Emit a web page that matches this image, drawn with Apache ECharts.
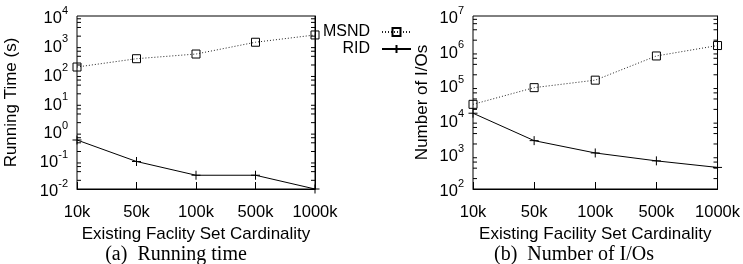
<!DOCTYPE html>
<html>
<head>
<meta charset="utf-8">
<script src="https://cdn.jsdelivr.net/npm/echarts@6/dist/echarts.min.js"></script>
<style>html,body{margin:0;padding:0;background:#fff}</style>
</head>
<body>
<div id="main" style="width:743px;height:264px"></div>
<script>
// 横轴
var categories = ['10k', '50k', '100k', '500k', '1000k']
// (a) 运行时间 (s)
var timeMSND = [170, 330, 480, 1230, 2200]
var timeRID = [0.5, 0.09, 0.03, 0.03, 0.01]
// (b) I/O 次数
var ioMSND = [28000, 85000, 140000, 700000, 1400000]
var ioRID = [15500, 2500, 1100, 650, 420]
// 纵轴范围
var timeRange = [0.01, 10000]
var ioRange = [100, 10000000]
var minorSteps = [2, 4, 6, 8]

var sans = 'Liberation Sans'
var serif = 'Liberation Serif'

// 对数轴次刻度 2,4,6,8
function minorValues (range) {
  var out = []
  var lo = Math.round(Math.log10(range[0]))
  var hi = Math.round(Math.log10(range[1]))
  for (var d = lo; d < hi; d++) {
    minorSteps.forEach(function (k) { out.push([0, k * Math.pow(10, d)]) })
  }
  return out
}

function powLabel (v) {
  var e = Math.round(Math.log10(v))
  return '{b|10}{s|' + e + '}'
}

function xAxisOf (gridIndex, name) {
  return {
    type: 'category',
    gridIndex: gridIndex,
    data: categories,
    boundaryGap: false,
    axisLine: { lineStyle: { color: '#000', width: 1 } },
    axisTick: { inside: true, length: 7, interval: 0, lineStyle: { color: '#000' } },
    axisLabel: { interval: 0, margin: 15, color: '#000', fontFamily: sans, fontSize: 16.5 },
    splitLine: { show: false },
    name: name,
    nameLocation: 'middle',
    nameGap: 35,
    nameTextStyle: { color: '#000', fontFamily: sans, fontSize: 17 }
  }
}

function yAxisOf (gridIndex, range, split, name, gap) {
  return {
    type: 'log',
    logBase: 10,
    gridIndex: gridIndex,
    min: range[0],
    max: range[1],
    splitNumber: split,
    axisLine: { lineStyle: { color: '#000', width: 1 } },
    axisTick: { inside: true, length: 7, lineStyle: { color: '#000' } },
    axisLabel: {
      margin: 9,
      formatter: powLabel,
      rich: {
        b: { fontFamily: sans, fontSize: 16.5, color: '#000', lineHeight: 22, verticalAlign: 'bottom' },
        s: { fontFamily: sans, fontSize: 11, color: '#000', lineHeight: 22, verticalAlign: 'top' }
      }
    },
    splitLine: { show: false },
    name: name,
    nameLocation: 'middle',
    nameRotate: 90,
    nameGap: gap,
    nameTextStyle: { color: '#000', fontFamily: sans, fontSize: 17 }
  }
}

// 右侧镜像刻度
function mirrorAxisOf (gridIndex, range, split) {
  return {
    type: 'log',
    logBase: 10,
    gridIndex: gridIndex,
    position: 'right',
    min: range[0],
    max: range[1],
    splitNumber: split,
    axisLine: { show: true, lineStyle: { color: '#000', width: 1 } },
    axisTick: { inside: true, length: 7, lineStyle: { color: '#000' } },
    axisLabel: { show: false },
    splitLine: { show: false }
  }
}

function minorTickSeries (gridIndex, range) {
  return {
    type: 'custom',
    name: 'minor' + gridIndex,
    xAxisIndex: gridIndex,
    yAxisIndex: gridIndex * 2,
    silent: true,
    clip: false,
    z: 5,
    data: minorValues(range),
    renderItem: function (params, api) {
      var y = api.coord([0, api.value(1)])[1]
      var cs = params.coordSys
      var st = { stroke: '#000', lineWidth: 1 }
      return {
        type: 'group',
        children: [
          { type: 'line', shape: { x1: cs.x, y1: y, x2: cs.x + 4, y2: y }, style: st },
          { type: 'line', shape: { x1: cs.x + cs.width - 4, y1: y, x2: cs.x + cs.width, y2: y }, style: st }
        ]
      }
    }
  }
}

function msndSeries (gridIndex, data) {
  return {
    name: 'MSND',
    type: 'line',
    xAxisIndex: gridIndex,
    yAxisIndex: gridIndex * 2,
    data: data,
    symbol: 'rect',
    symbolSize: 8,
    z: 3,
    lineStyle: { color: '#222', width: 1, type: [1, 2] },
    itemStyle: { color: 'rgba(0,0,0,0)', borderColor: '#000', borderWidth: 1 }
  }
}

function ridSeries (gridIndex, data) {
  return {
    name: 'RID',
    type: 'line',
    xAxisIndex: gridIndex,
    yAxisIndex: gridIndex * 2,
    data: data,
    symbol: 'path://M0,4L8,4M4,0L4,8',
    symbolSize: 9,
    z: 3,
    lineStyle: { color: '#000', width: 1 },
    itemStyle: { color: '#000', borderColor: '#000', borderWidth: 1 }
  }
}

var myChart = echarts.init(document.getElementById('main'))
var option = {
  animation: false,
  backgroundColor: '#fff',
  grid: [
    { left: 77, top: 16, width: 238, height: 173, show: true, borderColor: '#000', borderWidth: 1 },
    { left: 473, top: 16, width: 248, height: 173, show: true, borderColor: '#000', borderWidth: 1 }
  ],
  legend: {
    data: ['MSND', 'RID'],
    orient: 'vertical',
    align: 'right',
    right: 331,
    top: 24,
    padding: 0,
    itemWidth: 29,
    itemHeight: 10,
    itemGap: 1,
    selectedMode: false,
    textStyle: { color: '#000', fontFamily: sans, fontSize: 16, lineHeight: 16, padding: [0, 7, 0, 0] }
  },
  xAxis: [
    xAxisOf(0, 'Existing Faclity Set Cardinality'),
    xAxisOf(1, 'Existing Facility Set Cardinality')
  ],
  yAxis: [
    yAxisOf(0, timeRange, 6, 'Running Time (s)', 57),
    mirrorAxisOf(0, timeRange, 6),
    yAxisOf(1, ioRange, 5, 'Number of I/Os', 42),
    mirrorAxisOf(1, ioRange, 5)
  ],
  graphic: [
    { type: 'text', x: 176, y: 255, style: { text: '(a)  Running time', textAlign: 'center', textVerticalAlign: 'middle', fontFamily: serif, fontSize: 20, fill: '#000' } },
    { type: 'text', x: 574, y: 255, style: { text: '(b)  Number of I/Os', textAlign: 'center', textVerticalAlign: 'middle', fontFamily: serif, fontSize: 20, fill: '#000' } }
  ],
  series: [
    msndSeries(0, timeMSND),
    ridSeries(0, timeRID),
    msndSeries(1, ioMSND),
    ridSeries(1, ioRID),
    minorTickSeries(0, timeRange),
    minorTickSeries(1, ioRange)
  ]
}
myChart.setOption(option)
</script>
</body>
</html>
